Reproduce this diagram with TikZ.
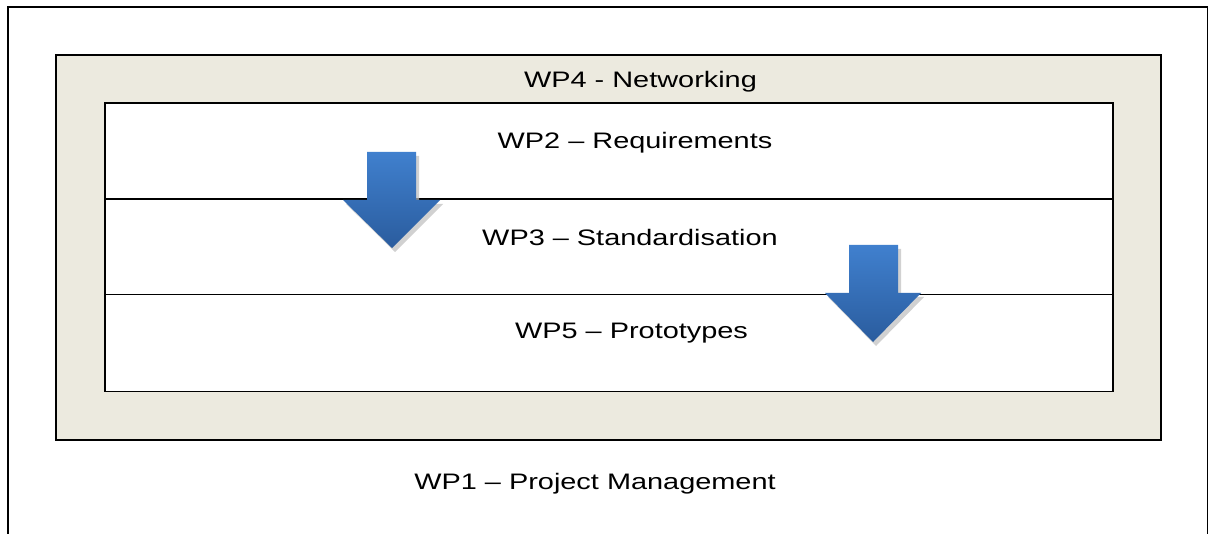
\documentclass[tikz,border=0pt]{standalone}
\usepackage{fontspec}
\setmainfont{Liberation Sans}
\usetikzlibrary{positioning}
\definecolor{beige}{RGB}{236,234,223}
\definecolor{arrtop}{RGB}{64,128,206}
\definecolor{arrbot}{RGB}{42,92,158}
\definecolor{shadowgray}{RGB}{190,190,190}
\newcommand{\wptext}[1]{\scalebox{1.29}[1]{#1}}
\tikzset{
  frame/.style={draw=black, line width=1.6pt},
  boxline/.style={draw=black, line width=1.8pt},
  divider/.style={draw=black, line width=1.4pt},
  label/.style={inner sep=0pt, anchor=base, font=\fontsize{22.4}{26}\selectfont},
  bluearrow/.style={top color=arrtop, bottom color=arrbot, draw=none},
  arrshadow/.style={fill=shadowgray, draw=none, opacity=0.7}
}
\begin{document}
\begin{tikzpicture}[x=1pt,y=-1pt]
\useasboundingbox (0,0) rectangle (1209,534);
\fill[white] (0,0) rectangle (1209,534);
% outer frame (open at the bottom)
\coordinate (fbl) at (8,534);
\coordinate (ftl) at (8,7);
\coordinate (ftr) at (1207.5,7);
\coordinate (fbr) at (1207.5,534);
\draw[frame] (fbl) -- (ftl) -- (ftr) -- (fbr);
% beige WP4 box
\fill[shadowgray!70] (57,56) rectangle (1162,441);
\node[boxline, fill=beige, minimum width=1105pt, minimum height=385pt, inner sep=0pt, anchor=north west] (wp4box) at (55,54) {};
% inner white box
\node[boxline, fill=white, minimum width=1008pt, minimum height=288.5pt, inner sep=0pt, anchor=north west] (inner) at (104,102) {};
\coordinate (d1l) at (104,199);
\coordinate (d1r) at (1112,199);
\coordinate (d2l) at (104,294.5);
\coordinate (d2r) at (1112,294.5);
\draw[divider] (d1l) -- (d1r);
\draw[divider] (d2l) -- (d2r);
% arrows
\begin{scope}[shift={(3,4)}]
\fill[arrshadow] (367,152) -- (416,152) -- (416,200) -- (440,200) -- (392,248) -- (343,200) -- (367,200) -- cycle;
\fill[arrshadow] (849,245) -- (898,245) -- (898,293) -- (921,293) -- (873,342) -- (825,293) -- (849,293) -- cycle;
\end{scope}
\shade[bluearrow] (367,152) -- (416,152) -- (416,200) -- (440,200) -- (392,248) -- (343,200) -- (367,200) -- cycle;
\shade[bluearrow] (849,245) -- (898,245) -- (898,293) -- (921,293) -- (873,342) -- (825,293) -- (849,293) -- cycle;
% labels
\node[label] (wp4) at (640.5,88) {\wptext{WP4 - Networking}};
\node[label] (wp2) at (635,149) {\wptext{WP2 – Requirements}};
\node[label] (wp3) at (630,245.5) {\wptext{WP3 – Standardisation}};
\node[label] (wp5) at (631.5,338) {\wptext{WP5 – Prototypes}};
\node[label] (wp1) at (595,489) {\wptext{WP1 – Project Management}};
\end{tikzpicture}
\end{document}
